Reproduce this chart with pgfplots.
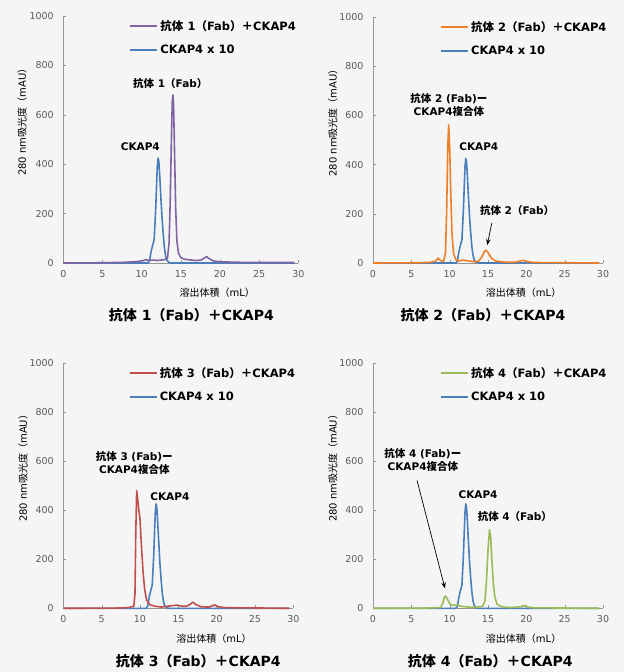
\documentclass[border=0pt]{standalone}
\usepackage{fontspec}
\setmainfont{DejaVu Sans}
\newfontfamily\jp{Noto Sans CJK JP}
\newcommand\J[1]{{\jp #1}}
\usepackage{pgfplots}
\usepackage{pgfplotstable}
\pgfplotsset{compat=1.18}
\usetikzlibrary{arrows.meta}
\definecolor{bgc}{RGB}{245,245,245}
\definecolor{cBlue}{RGB}{74,126,187}
\definecolor{cPurple}{RGB}{128,100,162}
\definecolor{cOrange}{RGB}{240,128,40}
\definecolor{cRed}{RGB}{192,80,77}
\definecolor{cGreen}{RGB}{155,187,89}
\definecolor{cAxis}{RGB}{150,150,150}
\definecolor{cTick}{RGB}{90,90,90}

% CKAP4 x 10 (same run in every panel)
\pgfplotstableread{
x y
0 0
10.8 0
11.0 8
11.2 45
11.35 65
11.6 95
11.8 220
11.9 310
12.0 390
12.1 425
12.2 410
12.3 360
12.45 270
12.6 185
12.75 120
12.9 65
13.05 30
13.2 12
13.5 2
13.8 0
29.5 0
}\ckap

\tikzset{
  ln/.style={line width=1.6pt, line join=round},
  ann/.style={font=\bfseries\fontsize{10.5}{13}\selectfont, align=center},
  ttl/.style={font=\bfseries\fontsize{14}{17}\selectfont},
}
\pgfplotsset{
  chrom/.style={
    scale only axis, anchor=south west,
    xmin=0, xmax=30, ymin=0, ymax=1000,
    xtick={0,5,...,30}, ytick={0,200,...,1000},
    axis x line*=bottom, axis y line*=left,
    axis line style={cAxis,-},
    tick style={cAxis}, tick align=inside, major tick length=3pt,
    tick label style={font=\fontsize{9.5}{11}\selectfont, text=cTick},
    /pgf/number format/assume math mode=true,
    /pgf/number format/set thousands separator={},
    yticklabel style={xshift=-6pt},
    xticklabel style={yshift=-4pt},
    clip=false,
    legend style={draw=none, fill=none, anchor=north west,
      font=\bfseries\fontsize{11.5}{13}\selectfont, row sep=9pt, inner sep=0pt},
    legend cell align=left,
    legend image code/.code={\draw[#1, line width=2.2pt] (0pt,0pt) -- (27pt,0pt);},
    xlabel style={font=\fontsize{10}{12}\selectfont, text=cTick},
    ylabel style={font=\fontsize{10}{12}\selectfont, text=cTick},
    every axis x label/.style={at={(axis description cs:0.655,-0.122)}, anchor=center},
    every axis y label/.style={at={(axis description cs:-0.175,0.58)}, anchor=center, rotate=90},
    xlabel={\J{溶出体積（}mL\J{）}},
    ylabel={280 nm\J{吸光度（}mAU\J{）}},
  },
}

\begin{document}
\begin{tikzpicture}
\fill[bgc] (0,0) rectangle (624pt,672pt);
\useasboundingbox (0,0) rectangle (624pt,672pt);

% ---- panel 1
\begin{axis}[chrom, at={(63.3pt,409pt)}, width=235pt, height=247pt,
  legend style={at={(axis description cs:0.28,0.99)}}]
\addlegendimage{cPurple}\addlegendentry{\J{抗体} 1\J{（}Fab\J{）＋}CKAP4}
\addlegendimage{cBlue}\addlegendentry{CKAP4 x 10}
\addplot[cBlue,ln,forget plot] table {\ckap};
\addplot[cPurple,ln,forget plot] coordinates {
(0,0)(5,1)(8,3)(9.5,6)(10.2,10)(10.5,13)(11,11)(11.5,12)(12,10)(12.5,12)(13,14)(13.3,20)
(13.5,80)(13.65,250)(13.8,500)(13.92,660)(14.0,680)(14.08,640)(14.2,450)(14.35,220)(14.5,90)
(14.7,40)(15.0,22)(15.5,15)(16,13)(17,10)(17.6,12)(18.0,20)(18.3,26)(18.6,18)(19.2,8)(20,5)
(22,3)(25,2)(29.5,2)};
\node[ann] at (axis cs:9.83,471) {CKAP4};
\node[ann] at (axis cs:13.66,728) {\J{抗体} 1\J{（}Fab\J{）}};
\node[ttl] at (axis description cs:0.545,-0.211) {\J{抗体} 1\J{（}Fab\J{）＋}CKAP4};
\end{axis}

% ---- panel 2
\begin{axis}[chrom, at={(373pt,409pt)}, width=230pt, height=246pt,
  legend style={at={(axis description cs:0.29,0.99)}}]
\addlegendimage{cOrange}\addlegendentry{\J{抗体} 2\J{（}Fab\J{）＋}CKAP4}
\addlegendimage{cBlue}\addlegendentry{CKAP4 x 10}
\addplot[cBlue,ln,forget plot] table {\ckap};
\addplot[cOrange,ln,forget plot] coordinates {
(0,0)(6,1)(7.5,3)(8.2,8)(8.5,20)(8.8,10)(9.2,6)(9.45,40)(9.6,200)(9.75,470)(9.87,562)
(10.0,470)(10.15,280)(10.3,120)(10.5,40)(10.8,14)(11.2,8)(11.8,12)(12.5,8)(13.2,5)(13.8,8)
(14.2,25)(14.5,45)(14.7,52)(14.95,45)(15.2,32)(15.5,18)(16,8)(17,4)(18.5,3)(19.2,8)(19.6,11)
(20.0,6)(21,2)(25,1)(29.5,0)};
\node[ann] at (axis cs:9.9,642) {\J{抗体} 2 (Fab)\J{ー}\\CKAP4\J{複合体}};
\node[ann] at (axis cs:13.8,471) {CKAP4};
\node[ann] at (axis cs:18.8,215) {\J{抗体} 2\J{（}Fab\J{）}};
\draw[-{Stealth[length=6pt]}, line width=0.7pt] (axis cs:15.5,163) -- (axis cs:14.9,73);
\node[ttl] at (axis description cs:0.478,-0.211) {\J{抗体} 2\J{（}Fab\J{）＋}CKAP4};
\end{axis}

% ---- panel 3
\begin{axis}[chrom, at={(63.3pt,63.7pt)}, width=230pt, height=245.6pt,
  legend style={at={(axis description cs:0.283,0.99)}}]
\addlegendimage{cRed}\addlegendentry{\J{抗体} 3\J{（}Fab\J{）＋}CKAP4}
\addlegendimage{cBlue}\addlegendentry{CKAP4 x 10}
\addplot[cBlue,ln,forget plot] table {\ckap};
\addplot[cRed,ln,forget plot] coordinates {
(0,0)(7,1)(8.5,3)(9.2,8)(9.35,60)(9.45,300)(9.57,479)(9.7,445)(9.85,400)(10.0,365)
(10.2,250)(10.4,150)(10.6,80)(10.85,35)(11.3,14)(12,8)(12.8,5)(13.5,8)(14,10)(14.8,13)
(15.4,9)(16,8)(16.5,15)(16.9,25)(17.3,15)(18,6)(19,5)(19.4,10)(19.75,14)(20.1,7)(21,3)
(23,2)(29.5,0)};
\node[ann] at (axis cs:9.26,592) {\J{抗体} 3 (Fab)\J{ー}\\CKAP4\J{複合体}};
\node[ann] at (axis cs:13.9,456) {CKAP4};
\node[ttl] at (axis description cs:0.587,-0.216) {\J{抗体} 3\J{（}Fab\J{）＋}CKAP4};
\end{axis}

% ---- panel 4
\begin{axis}[chrom, at={(373pt,63.7pt)}, width=230pt, height=245.6pt,
  legend style={at={(axis description cs:0.29,0.99)}}]
\addlegendimage{cGreen}\addlegendentry{\J{抗体} 4\J{（}Fab\J{）＋}CKAP4}
\addlegendimage{cBlue}\addlegendentry{CKAP4 x 10}
\addplot[cBlue,ln,forget plot] table {\ckap};
\addplot[cGreen,ln,forget plot] coordinates {
(0,0)(7,1)(8.8,3)(9.1,20)(9.3,45)(9.45,50)(9.7,38)(10.0,18)(10.4,12)(11,13)(11.5,8)(12.5,5)
(13.5,4)(14.3,8)(14.6,30)(14.8,110)(15.0,240)(15.2,320)(15.35,290)(15.5,200)(15.7,100)
(15.9,45)(16.2,15)(17,5)(18,3)(19.2,6)(19.7,11)(20.2,5)(21,2)(29.5,0)};
\node[ann] at (axis cs:6.5,603) {\J{抗体} 4 (Fab)\J{ー}\\CKAP4\J{複合体}};
\draw[-{Stealth[length=6pt]}, line width=0.7pt] (axis cs:5.74,521) -- (axis cs:9.39,81);
\node[ann] at (axis cs:13.7,464) {CKAP4};
\node[ann] at (axis cs:18.5,375) {\J{抗体} 4\J{（}Fab\J{）}};
\node[ttl] at (axis description cs:0.51,-0.216) {\J{抗体} 4\J{（}Fab\J{）＋}CKAP4};
\end{axis}
\end{tikzpicture}
\end{document}
